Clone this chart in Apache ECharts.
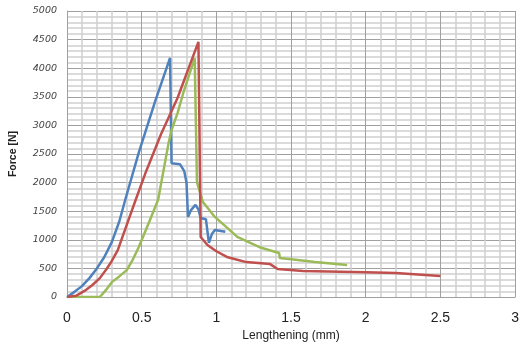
<!DOCTYPE html>
<html>
<head>
<meta charset="utf-8">
<script src="https://cdn.jsdelivr.net/npm/echarts@6/dist/echarts.min.js"></script>
<style>html,body{margin:0;padding:0;background:#fff;}#c{width:522px;height:350px;}</style>
</head>
<body>
<div id="c"></div>
<script>
var blueData = [[0,0],[0.05,90],[0.1,190],[0.15,330],[0.2,500],[0.25,700],[0.3,960],[0.35,1320],[0.39,1700],[0.48,2520],[0.59,3420],[0.69,4180],[0.70,2340],[0.757,2320],[0.785,2200],[0.80,2000],[0.81,1400],[0.83,1520],[0.86,1610],[0.88,1530],[0.895,1380],[0.93,1360],[0.95,945],[0.97,1100],[0.99,1170],[1.06,1140]];
var redData = [[0,0],[0.06,20],[0.12,110],[0.17,210],[0.22,330],[0.26,470],[0.30,630],[0.34,820],[0.40,1260],[0.46,1700],[0.53,2200],[0.63,2850],[0.74,3480],[0.88,4460],[0.895,1050],[0.94,910],[1.0,800],[1.07,700],[1.14,650],[1.2,610],[1.36,575],[1.41,490],[1.58,455],[2.0,432],[2.2,420],[2.5,367]];
var greenData = [[0,0],[0.22,0],[0.26,120],[0.3,260],[0.35,360],[0.40,470],[0.44,650],[0.48,870],[0.55,1310],[0.61,1700],[0.68,2690],[0.70,2920],[0.74,3215],[0.78,3580],[0.855,4180],[0.87,2010],[0.91,1660],[0.99,1400],[1.09,1170],[1.14,1050],[1.30,860],[1.42,770],[1.425,680],[1.53,650],[1.66,610],[1.875,560]];
var xTicks = [0, 0.5, 1, 1.5, 2, 2.5, 3];
var yTicks = [0, 500, 1000, 1500, 2000, 2500, 3000, 3500, 4000, 4500, 5000];

var chart = echarts.init(document.getElementById('c'));
function ser(data, color) {
  return {type:'line', data:data, showSymbol:false, symbol:'none', animation:false,
    lineStyle:{color:color, width:2.5}, itemStyle:{color:color}};
}
chart.setOption({
  animation:false,
  grid:{left:67, top:11, width:455, height:286},
  xAxis:{type:'value', min:0, max:3, interval:0.5,
    name:'Lengthening (mm)', nameLocation:'middle', nameGap:33,
    nameTextStyle:{fontFamily:'Liberation Sans', fontSize:12, color:'#222'},
    axisLine:{show:true, lineStyle:{color:'#a0a0a0'}},
    axisTick:{show:false},
    axisLabel:{fontFamily:'Liberation Sans', fontSize:14, color:'#222', margin:14,
      formatter:function(v){return xTicks.indexOf(v)>=0 ? String(v) : '';}},
    splitLine:{show:true, lineStyle:{color:'#a0a0a0', width:1}},
    minorTick:{show:false, splitNumber:5},
    minorSplitLine:{show:true, lineStyle:{color:'#d0d0d0', width:1.5}}
  },
  yAxis:{type:'value', min:0, max:5000, interval:500,
    name:'Force [N]', nameLocation:'middle', nameGap:48,
    nameTextStyle:{fontFamily:'Liberation Sans', fontSize:10.5, fontWeight:'bold', color:'#222'},
    axisLine:{show:true, lineStyle:{color:'#a0a0a0'}},
    axisTick:{show:false},
    axisLabel:{fontFamily:'DejaVu Sans', fontSize:9.5, fontStyle:'italic', color:'#444', margin:10,
      formatter:function(v){return yTicks.indexOf(v)>=0 ? String(v) : '';}},
    splitLine:{show:true, lineStyle:{color:'#a0a0a0', width:1.2}},
    minorTick:{show:false, splitNumber:5},
    minorSplitLine:{show:true, lineStyle:{color:'#d0d0d0', width:1.5}}
  },
  series:[ser(blueData,'#4F81BD'), ser(greenData,'#9BBB59'), ser(redData,'#C0504D')]
});
</script>
</body>
</html>
